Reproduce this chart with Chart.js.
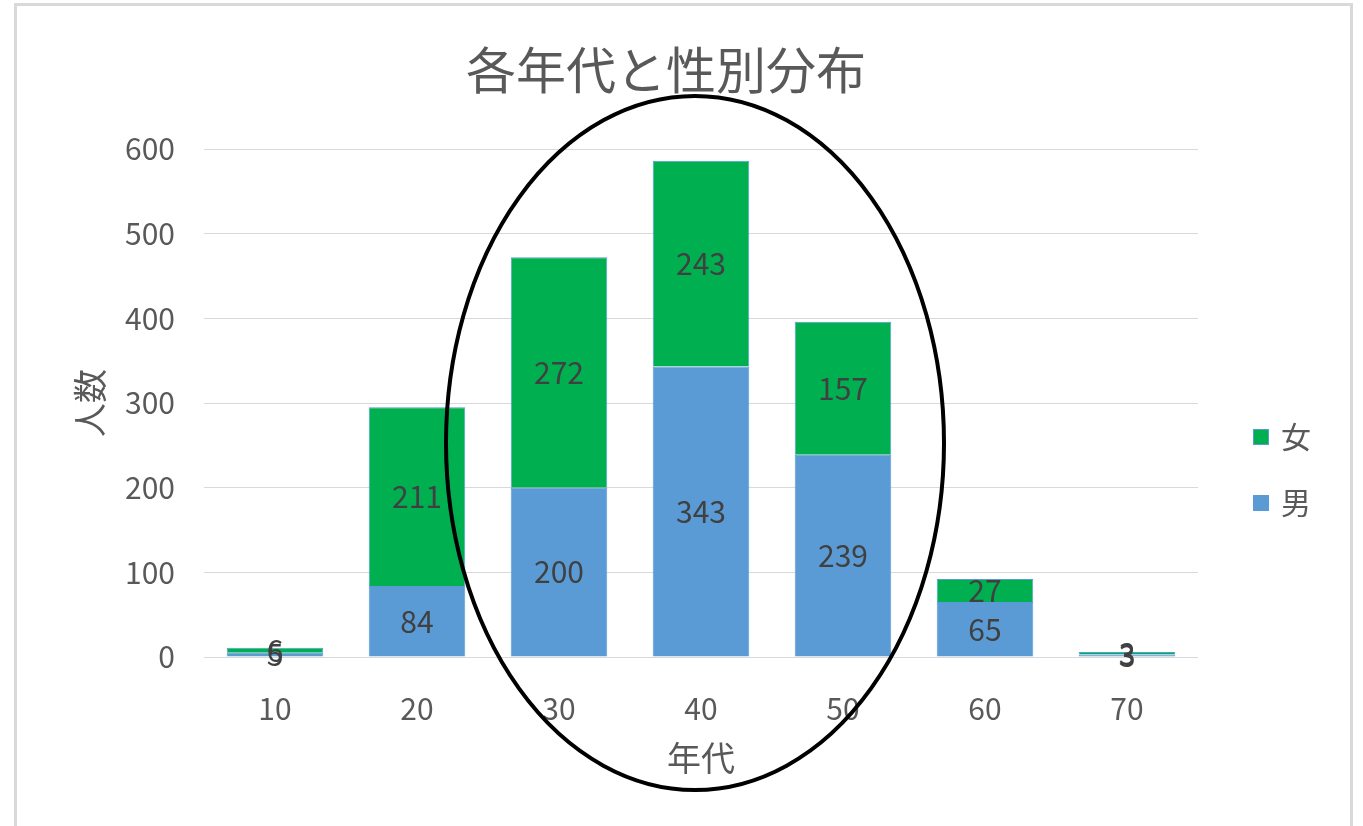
<!DOCTYPE html>
<html>
<head>
<meta charset="utf-8">
<script src="https://cdn.jsdelivr.net/npm/chart.js@4"></script>
<style>
  body { margin: 0; background: #fff; overflow: hidden; }
  #frame { position: absolute; left: 14px; top: 3px; width: 1333px; height: 900px; border: 3px solid #d9d9d9; }
  #chart { position: absolute; left: 0; top: 0; }
</style>
</head>
<body>
<div id="frame"></div>
<canvas id="chart" width="1363" height="826"></canvas>
<script>
// データ
const nendai = ["10", "20", "30", "40", "50", "60", "70"];
const otoko = [5, 84, 200, 343, 239, 65, 3];
const onna = [6, 211, 272, 243, 157, 27, 3];
const yTicks = [0, 100, 200, 300, 400, 500, 600];
const titulo = "各年代と性別分布";

const fonte = "'Noto Sans CJK JP', 'Noto Sans', sans-serif";
const cinza = "#595959";

// ラベルを各棒の中央に描く
const rotulos = {
  id: "rotulos",
  afterDatasetsDraw(chart) {
    const ctx = chart.ctx;
    ctx.save();
    ctx.font = "30px " + fonte;
    ctx.fillStyle = "#404040";
    ctx.textAlign = "center";
    ctx.textBaseline = "middle";
    chart.data.datasets.forEach((ds, i) => {
      chart.getDatasetMeta(i).data.forEach((bar, j) => {
        ctx.fillText(ds.data[j], bar.x, (bar.y + bar.base) / 2);
      });
    });
    ctx.restore();
  }
};

// タイトル、凡例と楕円
const extras = {
  id: "extras",
  afterDraw(chart) {
    const ctx = chart.ctx;
    ctx.save();
    ctx.font = "50px " + fonte;
    ctx.fillStyle = cinza;
    ctx.textAlign = "center";
    ctx.textBaseline = "middle";
    ctx.fillText(titulo, 666, 70);

    const items = [chart.data.datasets[1], chart.data.datasets[0]];
    ctx.font = "30px " + fonte;
    ctx.textAlign = "left";
    items.forEach((ds, k) => {
      const y = 437 + k * 66;
      ctx.fillStyle = ds.backgroundColor;
      ctx.fillRect(1253, y - 8, 16, 16);
      ctx.strokeStyle = "#5B9BD5";
      ctx.lineWidth = 1;
      ctx.strokeRect(1253.5, y - 7.5, 15, 15);
      ctx.fillStyle = cinza;
      ctx.fillText(ds.label, 1281, y);
    });

    ctx.beginPath();
    ctx.ellipse(695, 443, 249, 347, 0, 0, Math.PI * 2);
    ctx.strokeStyle = "#000";
    ctx.lineWidth = 4;
    ctx.stroke();
    ctx.restore();
  }
};

new Chart(document.getElementById("chart"), {
  type: "bar",
  data: {
    labels: nendai,
    datasets: [
      { label: "男", data: otoko, backgroundColor: "#5B9BD5", borderColor: "#5B9BD5", borderWidth: 1 },
      { label: "女", data: onna, backgroundColor: "#00B050", borderColor: "#5B9BD5", borderWidth: 1 }
    ]
  },
  options: {
    responsive: false,
    animation: false,
    layout: { padding: { top: 149, right: 165, left: 0, bottom: 0 } },
    datasets: { bar: { categoryPercentage: 1, barPercentage: 0.68 } },
    plugins: {
      legend: { display: false },
      tooltip: { enabled: false },
      title: { display: false }
    },
    scales: {
      x: {
        stacked: true,
        grid: { display: false },
        border: { display: false },
        ticks: { color: cinza, font: { family: fonte, size: 30 }, padding: 26 },
        title: { display: true, text: "年代", color: cinza, font: { family: fonte, size: 34 }, padding: { bottom: 48 } },
        afterFit(scale) { scale.height = 169; }
      },
      y: {
        stacked: true,
        min: 0,
        max: 600,
        afterBuildTicks(scale) { scale.ticks = yTicks.map(v => ({ value: v })); },
        grid: { color: "#d9d9d9", lineWidth: 1, drawTicks: false },
        border: { display: false },
        ticks: { color: cinza, font: { family: fonte, size: 30 }, padding: 29 },
        title: { display: true, text: "人数", color: cinza, font: { family: fonte, size: 34 }, padding: { top: 70 } },
        afterFit(scale) { scale.width = 204; }
      }
    }
  },
  plugins: [rotulos, extras]
});
</script>
</body>
</html>
